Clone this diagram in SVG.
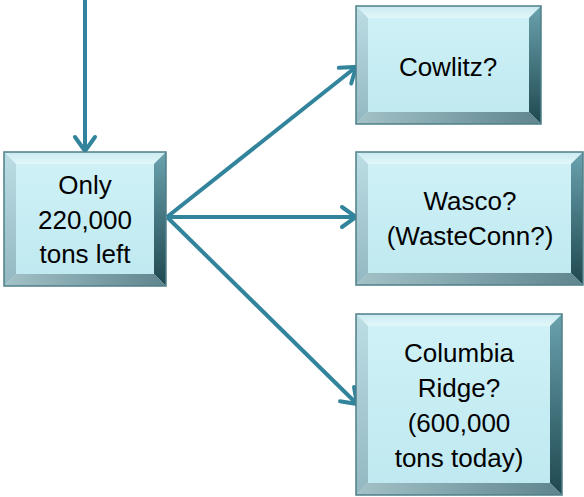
<svg xmlns="http://www.w3.org/2000/svg" width="584" height="497" viewBox="0 0 584 497">
<defs>
<linearGradient id="gFace" x1="0" y1="0" x2="0" y2="1"><stop offset="0" stop-color="#cff2f7"/><stop offset="1" stop-color="#bfe8f0"/></linearGradient>
<linearGradient id="gTop" x1="0" y1="0" x2="0" y2="1"><stop offset="0" stop-color="#c9eaf0"/><stop offset="1" stop-color="#e2f7fa"/></linearGradient>
<linearGradient id="gLeft" x1="0" y1="0" x2="0" y2="1"><stop offset="0" stop-color="#bcdde4"/><stop offset="1" stop-color="#93b8c1"/></linearGradient>
<linearGradient id="gRight" x1="0" y1="0" x2="0" y2="1"><stop offset="0" stop-color="#6aa2ae"/><stop offset="1" stop-color="#1f4850"/></linearGradient>
<linearGradient id="gBottom" x1="0" y1="0" x2="1" y2="0"><stop offset="0" stop-color="#a3c2c8"/><stop offset="1" stop-color="#5f858e"/></linearGradient>
<marker id="arr" viewBox="-18 -13 22 26" markerWidth="22" markerHeight="26" refX="0" refY="0" orient="auto" markerUnits="userSpaceOnUse">
<path d="M -14 -10 L 0 0 L -14 10" fill="none" stroke="#31849b" stroke-width="4" stroke-linecap="round" stroke-linejoin="miter"/>
</marker>
</defs>
<style>
.face{fill:url(#gFace)}
.top{fill:url(#gTop)}
.left{fill:url(#gLeft)}
.right{fill:url(#gRight)}
.bottom{fill:url(#gBottom)}
.edge{fill:none;stroke:#4f7f89;stroke-width:1.5}
.lbl{font-family:"Liberation Sans",Arial,sans-serif;font-size:26px;fill:#000;text-anchor:middle}
.conn{stroke:#31849b;stroke-width:4;fill:none;marker-end:url(#arr)}
</style>

<g id="connectors">
<line class="conn" x1="85" y1="0" x2="85" y2="151"/>
<line class="conn" x1="167" y1="217" x2="356" y2="67"/>
<line class="conn" x1="167" y1="217" x2="356" y2="217"/>
<line class="conn" x1="167" y1="217" x2="357" y2="404"/>
</g>

<g id="node-only">
<rect class="face" x="4" y="152" width="162" height="134"/>
<polygon class="top" points="4,152 166,152 154,164 16,164"/>
<polygon class="left" points="4,152 16,164 16,274 4,286"/>
<polygon class="right" points="166,152 166,286 154,274 154,164"/>
<polygon class="bottom" points="4,286 166,286 154,274 16,274"/>
<rect class="edge" x="4" y="152" width="162" height="134"/>
<text class="lbl" x="85" y="194">Only</text>
<text class="lbl" x="85" y="229">220,000</text>
<text class="lbl" x="85" y="263">tons left</text>
</g>

<g id="node-cowlitz">
<rect class="face" x="356" y="6" width="185" height="118"/>
<polygon class="top" points="356,6 541,6 529,18 368,18"/>
<polygon class="left" points="356,6 368,18 368,112 356,124"/>
<polygon class="right" points="541,6 541,124 529,112 529,18"/>
<polygon class="bottom" points="356,124 541,124 529,112 368,112"/>
<rect class="edge" x="356" y="6" width="185" height="118"/>
<text class="lbl" x="448" y="76">Cowlitz?</text>
</g>

<g id="node-wasco">
<rect class="face" x="356" y="152" width="227" height="133"/>
<polygon class="top" points="356,152 583,152 571,164 368,164"/>
<polygon class="left" points="356,152 368,164 368,273 356,285"/>
<polygon class="right" points="583,152 583,285 571,273 571,164"/>
<polygon class="bottom" points="356,285 583,285 571,273 368,273"/>
<rect class="edge" x="356" y="152" width="227" height="133"/>
<text class="lbl" x="470" y="210">Wasco?</text>
<text class="lbl" x="470" y="245">(WasteConn?)</text>
</g>

<g id="node-columbia">
<rect class="face" x="356" y="314" width="206" height="181"/>
<polygon class="top" points="356,314 562,314 550,326 368,326"/>
<polygon class="left" points="356,314 368,326 368,483 356,495"/>
<polygon class="right" points="562,314 562,495 550,483 550,326"/>
<polygon class="bottom" points="356,495 562,495 550,483 368,483"/>
<rect class="edge" x="356" y="314" width="206" height="181"/>
<text class="lbl" x="459" y="362">Columbia</text>
<text class="lbl" x="459" y="397">Ridge?</text>
<text class="lbl" x="459" y="432">(600,000</text>
<text class="lbl" x="459" y="467">tons today)</text>
</g>
</svg>
